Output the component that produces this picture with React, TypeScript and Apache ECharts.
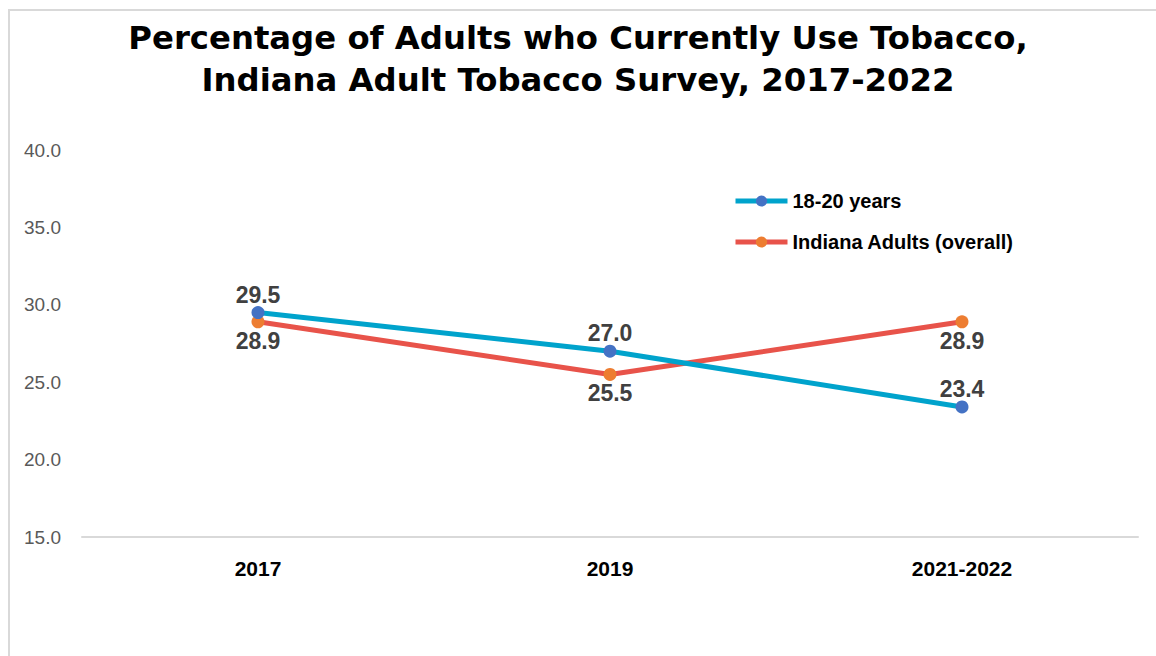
import React, { useEffect, useRef } from "react";
import * as echarts from "echarts";

const categories = ["2017", "2019", "2021-2022"];
const youngAdults = [29.5, 27.0, 23.4];
const allAdults = [28.9, 25.5, 28.9];
const seriesNames = ["18-20 years", "Indiana Adults (overall)"];
const titleLines = [
  "Percentage of Adults who Currently Use Tobacco,",
  "Indiana Adult Tobacco Survey, 2017-2022",
];

const narrow = "'Liberation Sans', Arial, sans-serif";

export default function App() {
  const ref = useRef<HTMLDivElement>(null);
  useEffect(() => {
    if (!ref.current) return;
    const chart = echarts.init(ref.current, null, { renderer: "svg" });
    chart.setOption({
      animation: false,
      backgroundColor: "#ffffff",
      title: titleLines.map((t, i) => ({
        text: t,
        left: "center",
        top: 17 + i * 42,
        padding: 0,
        textStyle: {
          fontFamily: "'DejaVu Sans'",
          fontWeight: 700,
          fontSize: 32.3,
          lineHeight: 42,
          color: "#000000",
        },
      })),
      graphic: [
        {
          type: "rect",
          shape: { x: 9, y: 10, width: 1300, height: 800 },
          style: { fill: "none", stroke: "#d9d9d9", lineWidth: 2 },
          silent: true,
        },
      ],
      legend: {
        orient: "vertical",
        left: 728,
        top: 186,
        itemWidth: 52,
        itemHeight: 14,
        itemGap: 21,
        textStyle: {
          fontFamily: narrow,
          fontWeight: "bold",
          fontSize: 20,
          color: "#000000",
        },
        data: seriesNames.map((n) => ({ name: n, lineStyle: { width: 5 } })),
      },
      grid: { left: 82, right: 18, top: 150, bottom: 119, containLabel: false },
      xAxis: {
        type: "category",
        data: categories,
        axisLine: { lineStyle: { color: "#d9d9d9", width: 2 } },
        axisTick: { show: false },
        axisLabel: {
          fontFamily: narrow,
          fontWeight: "bold",
          fontSize: 21,
          color: "#000000",
          margin: 21,
        },
      },
      yAxis: {
        type: "value",
        min: 15,
        max: 40,
        interval: 5,
        axisLine: { show: false },
        axisTick: { show: false },
        splitLine: { show: false },
        axisLabel: {
          formatter: (v: number) => v.toFixed(1),
          fontFamily: narrow,
          fontSize: 19,
          color: "#595959",
          margin: 21,
        },
      },
      series: [
        {
          name: seriesNames[0],
          type: "line",
          data: youngAdults,
          symbol: "circle",
          symbolSize: 13,
          lineStyle: { color: "#00A3CC", width: 5 },
          itemStyle: { color: "#4472C4" },
          label: {
            show: true,
            position: "top",
            distance: 0,
            formatter: (p: any) => p.value.toFixed(1),
            fontFamily: narrow,
            fontWeight: "bold",
            fontSize: 23,
            color: "#404040",
          },
          z: 3,
        },
        {
          name: seriesNames[1],
          type: "line",
          data: allAdults,
          symbol: "circle",
          symbolSize: 13,
          lineStyle: { color: "#E8534A", width: 5 },
          itemStyle: { color: "#ED7D31" },
          label: {
            show: true,
            position: "bottom",
            distance: 1,
            formatter: (p: any) => p.value.toFixed(1),
            fontFamily: narrow,
            fontWeight: "bold",
            fontSize: 23,
            color: "#404040",
          },
          z: 2,
        },
      ],
    });
    return () => chart.dispose();
  }, []);
  return (
    <div
      ref={ref}
      style={{ position: "fixed", left: 0, top: 0, width: 1156, height: 656 }}
    />
  );
}
